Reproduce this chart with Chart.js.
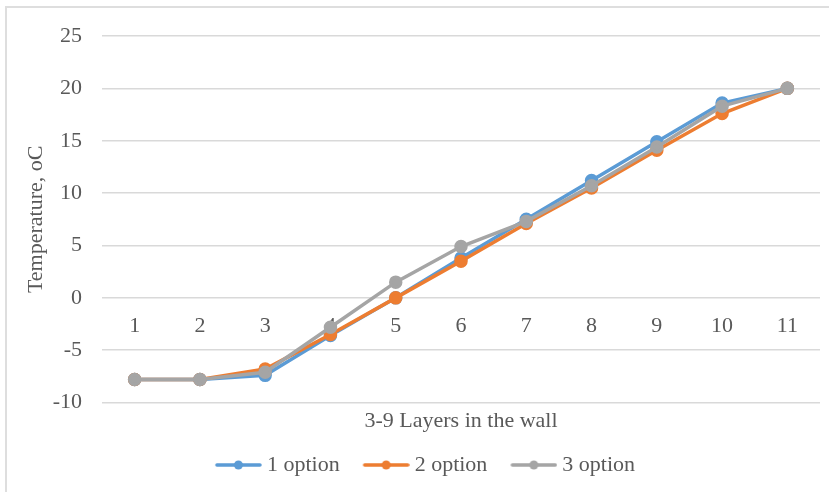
<!DOCTYPE html>
<html>
<head>
<meta charset="utf-8">
<script src="https://cdn.jsdelivr.net/npm/chart.js@4.4.1/dist/chart.umd.min.js"></script>
<style>
  html, body { margin: 0; padding: 0; background: #ffffff; }
  #wrap { position: relative; width: 829px; height: 492px; overflow: hidden; }
  #frame { position: absolute; left: 5px; top: 6px; width: 900px; height: 600px;
           border-left: 2px solid #dedede; border-top: 2px solid #dedede; pointer-events: none; }
  canvas { position: absolute; left: 0; top: 0; }
</style>
</head>
<body>
<div id="wrap">
  <canvas id="c" width="829" height="492"></canvas>
  <div id="frame"></div>
</div>
<script>
const categories = ['1', '2', '3', '4', '5', '6', '7', '8', '9', '10', '11'];
const option1 = [-7.8, -7.8, -7.4, -3.6, 0.0, 3.8, 7.5, 11.2, 14.9, 18.6, 20.0];
const option2 = [-7.8, -7.8, -6.8, -3.5, 0.0, 3.5, 7.1, 10.5, 14.1, 17.6, 20.0];
const option3 = [-7.8, -7.8, -7.1, -2.8, 1.5, 4.9, 7.3, 10.7, 14.4, 18.3, 20.0];
const seriesNames = ['1 option', '2 option', '3 option'];
const yTicks = { min: -10, max: 25, step: 5 };
const xTitle = '3-9 Layers in the wall';
const yTitle = 'Temperature, oC';

const colors = ['#5B9BD5', '#ED7D31', '#A5A5A5'];
const FONT = { family: '"Liberation Serif", "Times New Roman", serif', size: 22 };
const TEXT = '#595959';

function legendIcon(color) {
  const cv = document.createElement('canvas');
  cv.width = 60; cv.height = 12;
  const g = cv.getContext('2d');
  g.strokeStyle = color; g.lineWidth = 3.5; g.lineCap = 'round';
  g.beginPath(); g.moveTo(15, 6); g.lineTo(58, 6); g.stroke();
  g.fillStyle = color;
  g.beginPath(); g.arc(36.5, 6, 4.5, 0, Math.PI * 2); g.fill();
  return cv;
}

function ds(label, data, color, order) {
  return {
    label, data, order,
    borderColor: color, backgroundColor: color,
    pointBackgroundColor: color, pointBorderColor: color,
    borderWidth: 3.5, pointRadius: 5, pointHoverRadius: 5,
    tension: 0, fill: false, xAxisID: 'x'
  };
}

new Chart(document.getElementById('c'), {
  type: 'line',
  data: {
    labels: categories,
    datasets: [
      ds(seriesNames[0], option1, colors[0], 3),
      ds(seriesNames[1], option2, colors[1], 2),
      ds(seriesNames[2], option3, colors[2], 1)
    ]
  },
  options: {
    responsive: false,
    animation: false,
    layout: { padding: { left: 23, right: 9, top: 36, bottom: 6 } },
    scales: {
      x: {
        type: 'category',
        position: { y: 0 },
        offset: true,
        grid: { display: false, drawTicks: false },
        border: { display: false },
        ticks: { font: FONT, color: TEXT, padding: 15, maxRotation: 0, autoSkip: false }
      },
      xt: {
        type: 'category',
        labels: categories,
        position: 'bottom',
        offset: true,
        grid: { display: false, drawTicks: false },
        border: { display: false },
        ticks: { display: false },
        title: { display: true, text: xTitle, font: FONT, color: TEXT, padding: { top: 5, bottom: 4 } }
      },
      y: {
        min: yTicks.min, max: yTicks.max,
        ticks: { stepSize: yTicks.step, font: FONT, color: TEXT, padding: 20 },
        grid: { color: '#d9d9d9', lineWidth: 1.5, drawTicks: false },
        border: { display: false },
        title: { display: true, text: yTitle, font: FONT, color: TEXT, padding: { top: 0, bottom: 0 } },
        afterFit: (s) => { s.width = 79; }
      }
    },
    plugins: {
      tooltip: { enabled: false },
      legend: {
        position: 'bottom',
        labels: {
          font: FONT, color: TEXT, usePointStyle: true, pointStyleWidth: 48, padding: 16,
          generateLabels: (chart) => chart.data.datasets.map((d, i) => ({
            text: d.label, fillStyle: d.borderColor, strokeStyle: d.borderColor,
            lineWidth: 0, pointStyle: legendIcon(d.borderColor), datasetIndex: i, fontColor: TEXT
          }))
        }
      }
    }
  }
});
</script>
</body>
</html>
